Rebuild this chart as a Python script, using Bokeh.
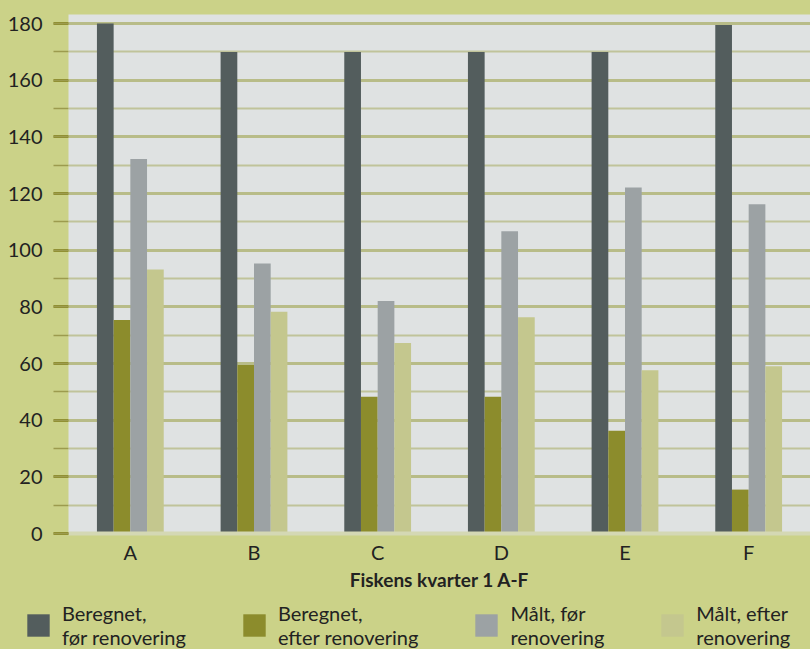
from bokeh.plotting import figure
from bokeh.layouts import column
from bokeh.models import (ColumnDataSource, FactorRange, Range1d, SingleIntervalTicker,
                          Legend, LegendItem)
from bokeh.transform import dodge
from bokeh.embed import file_html
from bokeh.resources import INLINE

# ---- data ----
categories = ["A", "B", "C", "D", "E", "F"]
beregnet_foer = [180, 170, 170, 170, 170, 179.5]
beregnet_efter = [75.4, 59.5, 48.3, 48.3, 36.3, 15.5]
maalt_foer = [132.2, 95.3, 82.1, 106.7, 122.1, 116.2]
maalt_efter = [93.2, 78.3, 67.2, 76.3, 57.6, 59.0]
series_labels = ["Beregnet,\nfør renovering", "Beregnet,\nefter renovering",
                 "Målt, før\nrenovering", "Målt, efter\nrenovering"]
x_title = "Fiskens kvarter 1 A-F"

FONT = "Lato"
TEXT = "#222222"
BG = "#cbd288"
colors = ["#535d5d", "#8c8c2c", "#9ca2a4", "#c4c78e"]

source = ColumnDataSource(dict(cat=categories, bf=beregnet_foer, be=beregnet_efter,
                               mf=maalt_foer, me=maalt_efter))

p = figure(width=810, height=600, x_range=FactorRange(*categories, range_padding=0),
           y_range=Range1d(0, 183.2), output_backend="svg", toolbar_location=None,
           min_border_left=68, min_border_right=0, min_border_top=14, min_border_bottom=67)
p.frame_align = False

p.border_fill_color = BG
p.background_fill_color = "#dfe2e2"
p.outline_line_color = None

# grid
p.xgrid.grid_line_color = None
p.ygrid.grid_line_color = "#b8bc88"
p.ygrid.grid_line_width = 3
p.ygrid.minor_grid_line_color = "#c0c39a"
p.ygrid.minor_grid_line_width = 2

# y axis
p.yaxis.ticker = SingleIntervalTicker(interval=20, num_minor_ticks=2)
p.yaxis.axis_line_color = None
p.yaxis.major_tick_in = 0
p.yaxis.major_tick_out = 15
p.yaxis.major_tick_line_color = "#8e8c2c"
p.yaxis.major_tick_line_width = 3
p.yaxis.minor_tick_in = 0
p.yaxis.minor_tick_out = 15
p.yaxis.minor_tick_line_color = "#9c9b4e"
p.yaxis.minor_tick_line_width = 1.5
p.yaxis.major_label_standoff = 11
p.yaxis.major_label_text_font = FONT
p.yaxis.major_label_text_font_size = "20px"
p.yaxis.major_label_text_color = TEXT

# x axis
p.xaxis.axis_line_color = "#d4d8b4"
p.xaxis.axis_line_width = 4
p.xaxis.major_tick_line_color = None
p.xaxis.minor_tick_line_color = None
p.xaxis.major_tick_in = 0
p.xaxis.major_tick_out = 0
p.xaxis.major_label_standoff = 6
p.xaxis.major_label_text_font = FONT
p.xaxis.major_label_text_font_size = "20px"
p.xaxis.major_label_text_color = TEXT
p.xaxis.axis_label = x_title
p.xaxis.axis_label_text_font = FONT
p.xaxis.axis_label_text_font_style = "bold"
p.xaxis.axis_label_text_font_size = "19px"
p.xaxis.axis_label_text_color = TEXT
p.xaxis.axis_label_standoff = 1

w = 0.135
cols = ["bf", "be", "mf", "me"]
offsets = [-1.5 * w, -0.5 * w, 0.5 * w, 1.5 * w]
for c, off, col in zip(cols, offsets, colors):
    p.vbar(x=dodge("cat", off, range=p.x_range), top=c, width=w, source=source,
           fill_color=col, line_color=None)

# ---- legend strip below the chart ----
lg = figure(width=810, height=49, x_range=Range1d(0, 1), y_range=Range1d(0, 1),
            output_backend="svg", toolbar_location=None,
            min_border_left=0, min_border_right=0, min_border_top=0, min_border_bottom=0)
lg.frame_align = False
lg.axis.visible = False
lg.grid.visible = False
lg.outline_line_color = None
lg.background_fill_color = BG
lg.border_fill_color = BG
nan = float("nan")
swatches = [lg.vbar(x=[nan], top=[nan], width=0.1, fill_color=col, line_color=None) for col in colors]

legend = Legend(items=[LegendItem(label=lab, renderers=[r]) for lab, r in zip(series_labels, swatches)],
                orientation="horizontal", location=(24, 0),
                glyph_width=28, glyph_height=28, label_standoff=10, spacing=54,
                padding=0, margin=0, border_line_color=None, background_fill_alpha=0,
                label_text_font=FONT, label_text_font_size="20px", label_text_color=TEXT)
lg.add_layout(legend, "center")

layout = column(p, lg, spacing=0, styles={"background-color": BG})
open("out.html", "w").write(file_html(layout, INLINE))
